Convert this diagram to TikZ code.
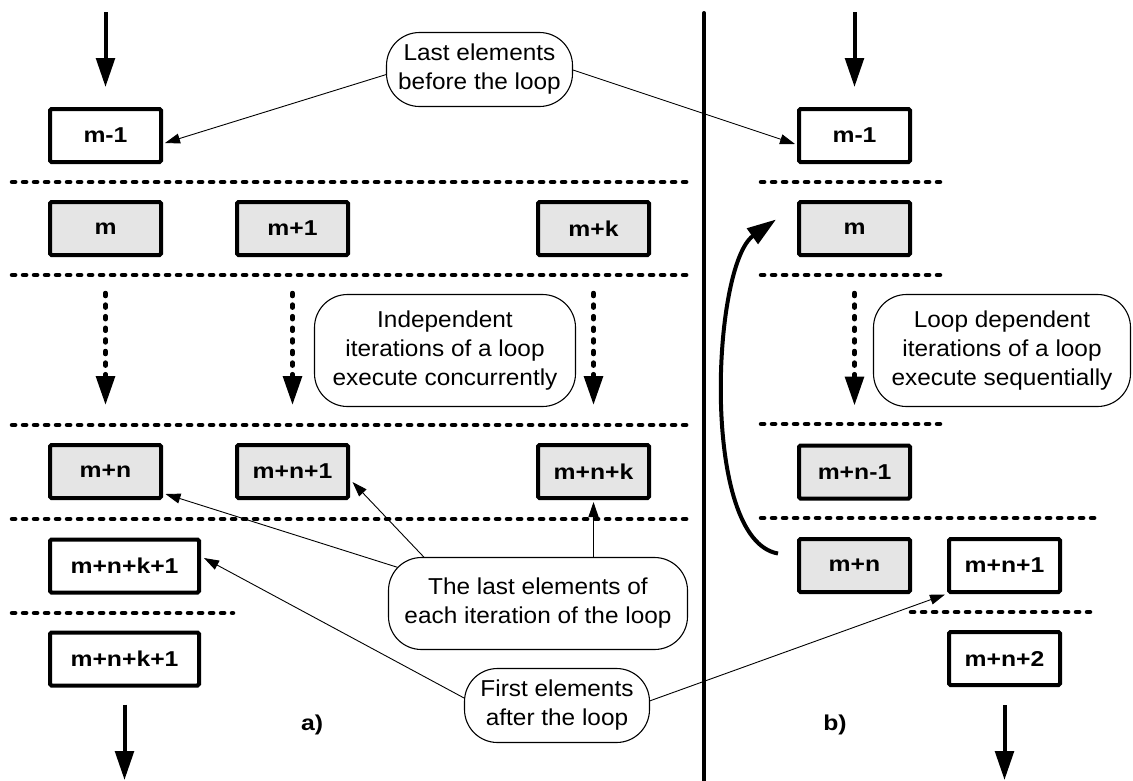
\documentclass[tikz,border=0pt]{standalone}
\usepackage{fontspec}
\setmainfont{Liberation Sans}
\newfontfamily\boxfont{Liberation Sans}[FakeStretch=1.15]
\newfontfamily\notefont{Liberation Sans}[FakeStretch=1.06]
\usetikzlibrary{arrows.meta,backgrounds,calc}

\tikzset{
  box/.style={draw, line width=4pt, rounded corners=1.5pt, fill=white,
    minimum width=111pt, minimum height=53pt, inner sep=0pt,
    font=\boxfont\fontsize{21.5}{25}\selectfont\bfseries},
  loopbox/.style={box, fill=gray!20},
  widebox/.style={box, minimum width=149pt},
  bubble/.style={draw, line width=1.1pt, fill=white, rounded corners=33pt,
    align=center, inner sep=0pt, font=\notefont\fontsize{23}{29}\selectfont},
  sepline/.style={line width=4.5pt, dash pattern=on 3.2pt off 7.8pt, line cap=round},
  flow/.style={line width=4pt, -{Triangle[length=29pt,width=18.5pt]}},
  flowdash/.style={flow, line width=4.5pt, dash pattern=on 3pt off 8.6pt, line cap=round},
  pointer/.style={line width=0.9pt, -{Triangle[length=15pt,width=10pt]}},
  caption/.style={font=\boxfont\fontsize{21.5}{25}\selectfont\bfseries, inner sep=0pt}
}

\begin{document}
\begin{tikzpicture}[x=1pt,y=-1pt]
\useasboundingbox (0,0) rectangle (1133,780);

% ---------- a) independent iterations ----------
\node[box]      (m1a)   at (105.5,135.5) {m-1};
\node[loopbox]  (ma)    at (105.5,228.5) {m};
\node[loopbox]  (mp1a)  at (292.5,228.5) {m+1};
\node[loopbox]  (mka)   at (593.5,228.5) {m+k};
\node[loopbox]  (mna)   at (105.5,471.5) {m+n};
\node[loopbox]  (mn1a)  at (292.5,471.5) {m+n+1};
\node[loopbox]  (mnka)  at (593.5,471.5) {m+n+k};
\node[widebox]  (mnk1a) at (124.5,566)   {m+n+k+1};
\node[widebox]  (mnk1c) at (124.5,659)   {m+n+k+1};

\foreach \y in {182,275,425,519}
  \draw[sepline] (12,\y) -- (688,\y);
\draw[sepline] (12,613) -- (233,613);

\coordinate (ina) at (105.5,12);
\draw[flow] (ina) -- ([yshift=20pt]m1a.north);
\coordinate (outa) at (124.5,780);
\draw[flow] ([yshift=-17pt]mnk1c.south) -- (outa);

\draw[flowdash] ([yshift=-36pt]ma.south)   -- ([yshift=38pt]mna.north);
\draw[flowdash] ([yshift=-36pt]mp1a.south) -- ([yshift=38pt]mn1a.north);
\draw[flowdash] ([yshift=-36pt]mka.south)  -- ([yshift=38pt]mnka.north);

\node[caption] (capa) at (312,725) {a)};

% ---------- divider ----------
\draw[line width=4pt, line cap=round] (704,13) -- (704,782);

% ---------- b) loop dependent iterations ----------
\node[box]      (m1b)  at (854.5,135.5) {m-1};
\node[loopbox]  (mb)   at (854.5,228.5) {m};
\node[loopbox]  (mnm1) at (854.5,472)   {m+n-1};
\node[loopbox]  (mnb)  at (854.5,565.5) {m+n};
\node[box]      (mn1b) at (1004.5,565.5) {m+n+1};
\node[box]      (mn2)  at (1004.5,658.5) {m+n+2};

\foreach \y in {182,275,424}
  \draw[sepline] (761,\y) -- (940,\y);
\draw[sepline] (761,518) -- (1096,518);
\draw[sepline] (911,612) -- (1090,612);

\coordinate (inb) at (854.5,12);
\draw[flow] (inb) -- ([yshift=20pt]m1b.north);
\coordinate (outb) at (1004.5,780);
\draw[flow] ([yshift=-18pt]mn2.south) -- (outb);

\draw[flowdash] ([yshift=-36pt]mb.south) -- ([yshift=38pt]mnm1.north);

% feedback from the last iteration back to the first one
\draw[flow] ([xshift=-19pt,yshift=12pt]mnb.west)
  .. controls (700,540) and (712,265) .. ([xshift=-21pt,yshift=9pt]mb.west);

\node[caption] (capb) at (835,725) {b)};

% ---------- callouts ----------
\node[bubble, minimum width=186pt, minimum height=74pt] (lastbefore) at (479.5,69.5)
  {Last elements\\before the loop};
\node[bubble, minimum width=261pt, minimum height=112pt] (indep) at (445,350.5)
  {Independent\\iterations of a loop\\execute concurrently};
\node[bubble, minimum width=299pt, minimum height=92pt] (lastelem) at (538,603.5)
  {The last elements of\\each iteration of the loop};
\node[bubble, minimum width=185pt, minimum height=74pt] (firstel) at (557,705.5)
  {First elements\\after the loop};
\node[bubble, minimum width=257pt, minimum height=112pt] (loopdep) at (1002,350.5)
  {Loop dependent\\iterations of a loop\\execute sequentially};

\begin{pgfonlayer}{background}
  \draw[pointer] ($(lastbefore.center)+(-77,0)$) -- ([xshift=2pt,yshift=-7.5pt]m1a.east);
  \draw[pointer] ($(lastbefore.center)+(80,-4)$) -- ([xshift=-2pt,yshift=-8.5pt]m1b.west);
  \draw[pointer] ($(lastelem.center)+(-26,0)$) -- ([xshift=2.5pt,yshift=6pt]mna.south east);
  \draw[pointer] ($(lastelem.center)+(-70,0)$) -- ([xshift=2.5pt,yshift=-10.5pt]mn1a.east);
  \draw[pointer] (lastelem.center -| mnka.south) -- ([yshift=-2pt]mnka.south);
  \draw[pointer] ($(firstel.center)+(-79,0)$) -- ([xshift=3pt,yshift=8pt]mnk1a.east);
  \draw[pointer] ($(firstel.center)+(80,0)$) -- ([xshift=-2pt,yshift=-0.5pt]mn1b.south west);
\end{pgfonlayer}
\end{tikzpicture}
\end{document}
